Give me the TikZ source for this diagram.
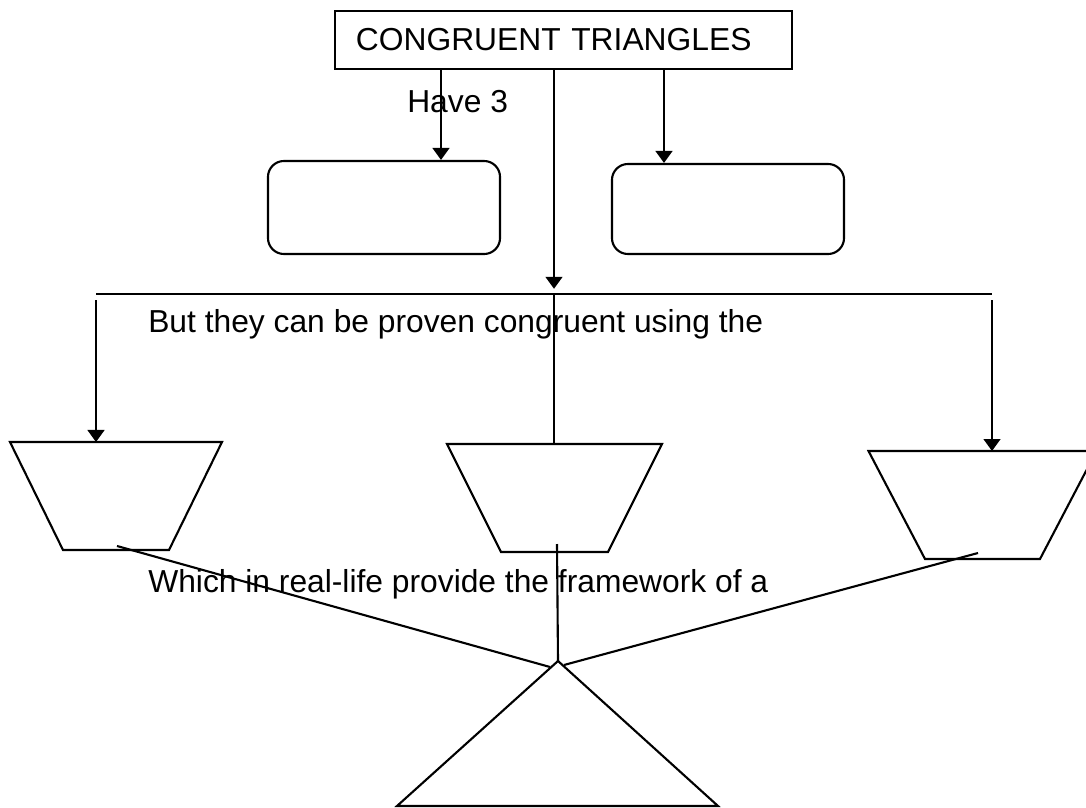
\documentclass[tikz,border=0pt]{standalone}
\usepackage{fontspec}
\setmainfont{Liberation Sans}
\usetikzlibrary{positioning, arrows.meta}

\tikzset{
    line/.style={line width=1.5pt, black},
    arrowline/.style={line, -{Triangle[width=0.42cm, length=0.3cm]}},
    titlebox/.style={draw, line, text width=10.375cm, inner xsep=0.525cm, inner ysep=0pt, minimum height=1.45cm, align=left},
    roundbox/.style={draw, line, rounded corners=0.4cm, minimum width=5.8cm},
    label/.style={anchor=base west, inner sep=0pt}
}

\begin{document}
\begin{tikzpicture}[x=0.025cm, y=-0.025cm, font=\fontsize{22.6}{27}\selectfont]

    \clip (0,0) rectangle (1086,808);

    % --- Top ---
    \node[titlebox] (title) at (563.5,40) {CONGRUENT TRIANGLES};
    \node[label] (have) at (407,112) {Have 3};

    \node[roundbox, minimum height=2.325cm] (leftbox) at (384,207.5) {};
    \node[roundbox, minimum height=2.25cm] (rightbox) at (728,209) {};

    \coordinate (lx) at (441,0);
    \coordinate (mx) at (554,0);
    \coordinate (rx) at (664,0);

    \draw[arrowline] (title.south -| lx) -- (leftbox.north -| lx);
    \draw[arrowline] (title.south -| rx) -- (rightbox.north -| rx);

    % --- Bar ---
    \coordinate (barL) at (96,294);
    \coordinate (barM) at (554,294);
    \coordinate (barR) at (992,294);
    \draw[line] (barL) -- (barR);
    \draw[arrowline] (title.south -| mx) -- ([yshift=0.13cm]barM);

    \node[label] (proven) at (148,332) {But they can be proven congruent using the};

    % --- Trapezoids (name / centre x / top y / half top / half bottom) ---
    \foreach \n/\cx/\ty/\wt/\wb in {tl/116/442/106/53, tm/554.5/444/107.5/53.5, tr/982.5/451/114/57.5} {
        \draw[line] (\cx-\wt,\ty) -- (\cx+\wt,\ty) -- (\cx+\wb,\ty+108) -- (\cx-\wb,\ty+108) -- cycle;
        \coordinate (\n-top) at (\cx,\ty);
    }

    \draw[arrowline] ([yshift=-0.15cm]barL) -- (barL |- tl-top);
    \draw[arrowline] ([yshift=-0.15cm]barR) -- (barR |- tr-top);
    \draw[line] (barM) -- (barM |- tm-top);

    \node[label] (framework) at (148,592) {Which in real-life provide the framework of a};

    % --- Base triangle ---
    \coordinate (apex) at (558,661);
    \coordinate (apexL) at (550,667);
    \coordinate (apexR) at (564,665);
    \draw[line] (apex) -- (718,806) -- (397,806) -- cycle;

    \coordinate (footL) at (117,546);
    \coordinate (footM) at (557,544);
    \coordinate (footR) at (978,553);
    \draw[line] (footL) -- (apexL);
    \draw[line] (footM) -- (apex);
    \draw[line] (footR) -- (apexR);

\end{tikzpicture}
\end{document}
